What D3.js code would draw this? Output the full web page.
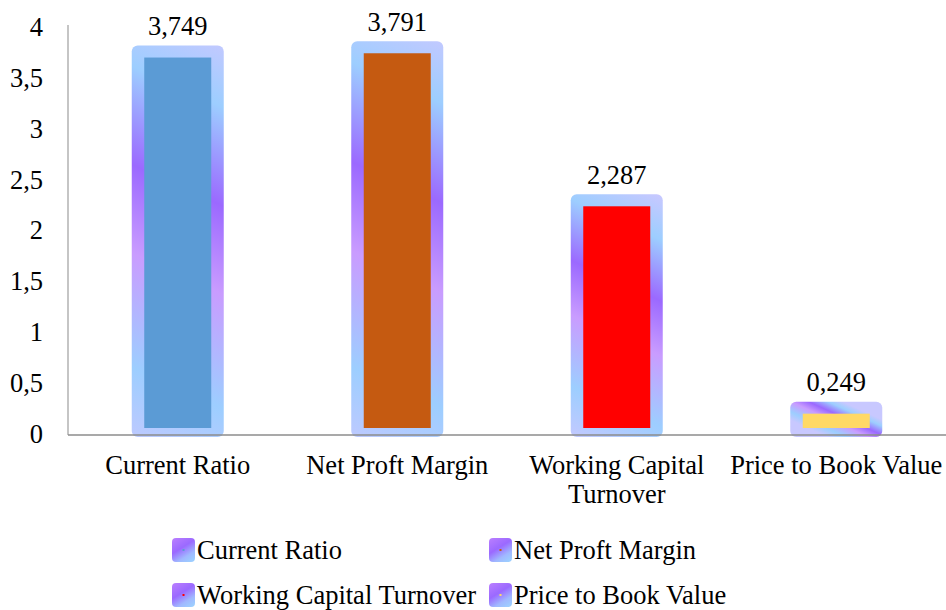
<!DOCTYPE html>
<html>
<head>
<meta charset="utf-8">
<script src="https://cdn.jsdelivr.net/npm/d3@7"></script>
<style>
  body { margin: 0; background: #fff; }
  svg text { font-family: "Liberation Serif", "Times New Roman", "DejaVu Serif", serif; fill: #000; font-size: 26.5px; }
</style>
</head>
<body>
<div id="graph"></div>
<script>
var categories = ["Current Ratio", "Net Proft Margin", "Working Capital Turnover", "Price to Book Value"],
    values = [3.749, 3.791, 2.287, 0.249],
    valueLabels = ["3,749", "3,791", "2,287", "0,249"],
    barColors = ["#5b9bd5", "#c55a11", "#ff0000", "#ffd966"],
    yTicks = [0, 0.5, 1, 1.5, 2, 2.5, 3, 3.5, 4];

var W = 946, H = 610,
    margin = {top: 27, right: 0, bottom: 176, left: 68},
    y0 = 434;

var svg = d3.select("#graph").append("svg")
    .attr("width", W)
    .attr("height", H);

var defs = svg.append("defs");

var x = d3.scaleBand()
    .domain(categories)
    .range([margin.left, W])
    .padding(0);

var y = d3.scaleLinear()
    .domain([0, 4])
    .range([y0, margin.top]);

// y axis
var yAxis = svg.append("g")
    .attr("transform", "translate(" + margin.left + ",0)")
    .call(d3.axisLeft(y).tickValues(yTicks).tickSize(0).tickPadding(25)
      .tickFormat(function(d) { return String(d).replace(".", ","); }));
yAxis.select(".domain").remove();
yAxis.attr("font-family", null).attr("font-size", null);

svg.append("line")
    .attr("x1", margin.left).attr("x2", margin.left)
    .attr("y1", 25).attr("y2", 435)
    .attr("stroke", "#a6a6a6").attr("stroke-width", 1.3);

// gradient frames behind each bar
var bars = svg.append("g").selectAll("g")
    .data(categories)
    .enter().append("g");

bars.each(function(d, i) {
  var cx = x(d) + x.bandwidth() / 2,
      top = y(values[i]) - 7,
      bottom = 437,
      h = bottom - top;
  var g = defs.append("linearGradient")
      .attr("id", "frame" + i)
      .attr("gradientUnits", "userSpaceOnUse")
      .attr("x1", cx + 0.25 * h).attr("y1", top - 0.1 * h)
      .attr("x2", cx - 0.25 * h).attr("y2", top + 1.0 * h);
  [[0.1, "#c8c8ff"], [0.24, "#9dceff"], [0.43, "#9b69ff"], [0.6, "#c99cff"], [0.82, "#9dceff"], [1, "#c8c8ff"]]
    .forEach(function(s) {
      g.append("stop").attr("offset", s[0]).attr("stop-color", s[1]);
    });
});

bars.append("rect")
    .attr("x", function(d) { return x(d) + x.bandwidth() / 2 - 46; })
    .attr("y", function(d, i) { return y(values[i]) - 7; })
    .attr("width", 92)
    .attr("height", function(d, i) { return 437 - (y(values[i]) - 7); })
    .attr("rx", 6)
    .attr("fill", function(d, i) { return "url(#frame" + i + ")"; });

bars.append("rect")
    .attr("x", function(d) { return x(d) + x.bandwidth() / 2 - 33.5; })
    .attr("y", function(d, i) { return y(values[i]) + 5; })
    .attr("width", 67)
    .attr("height", function(d, i) { return 428 - (y(values[i]) + 5); })
    .attr("fill", function(d, i) { return barColors[i]; });

bars.append("text")
    .attr("x", function(d) { return x(d) + x.bandwidth() / 2; })
    .attr("y", function(d, i) { return y(values[i]) - 17.5; })
    .attr("text-anchor", "middle")
    .text(function(d, i) { return valueLabels[i]; });

// baseline
svg.append("line")
    .attr("x1", margin.left).attr("x2", W)
    .attr("y1", 435).attr("y2", 435)
    .attr("stroke", "#8c8c8c").attr("stroke-width", 1.3);

// category labels
var xAxis = svg.append("g")
    .attr("transform", "translate(0,435)")
    .call(d3.axisBottom(x).tickSize(0).tickPadding(0));
xAxis.select(".domain").remove();
xAxis.attr("font-family", null).attr("font-size", null);
xAxis.selectAll("text")
    .attr("dy", null)
    .call(wrap, x.bandwidth());

function wrap(sel, w) {
  sel.each(function() {
    var text = d3.select(this),
        words = text.text().split(/\s+/),
        line = [], lines = [];
    text.text(null);
    var probe = text.append("tspan");
    words.forEach(function(word) {
      line.push(word);
      probe.text(line.join(" "));
      if (probe.node().getComputedTextLength() > w && line.length > 1) {
        line.pop();
        lines.push(line.join(" "));
        line = [word];
      }
    });
    lines.push(line.join(" "));
    probe.remove();
    lines.forEach(function(l, k) {
      text.append("tspan").attr("x", 0).attr("y", 39 + k * 29).text(l);
    });
  });
}

// legend
var legendPos = [[172, 538], [489, 538], [172, 583], [489, 583]];
var lg = defs.append("linearGradient")
    .attr("id", "legendGrad")
    .attr("x1", 0.2).attr("y1", 0).attr("x2", 0.8).attr("y2", 1);
[[0, "#b57bff"], [0.4, "#9b69ff"], [0.75, "#a0b8ff"], [1, "#9dceff"]].forEach(function(s) {
  lg.append("stop").attr("offset", s[0]).attr("stop-color", s[1]);
});

var legend = svg.append("g").selectAll("g")
    .data(categories)
    .enter().append("g")
    .attr("transform", function(d, i) { return "translate(" + legendPos[i][0] + "," + legendPos[i][1] + ")"; });

legend.append("rect")
    .attr("width", 23).attr("height", 24).attr("rx", 4)
    .attr("fill", "url(#legendGrad)");
legend.append("rect")
    .attr("x", 10.5).attr("y", 11).attr("width", 2).attr("height", 2)
    .attr("fill", function(d, i) { return barColors[i]; });
legend.append("text")
    .attr("x", 25).attr("y", 21)
    .text(function(d) { return d; });
</script>
</body>
</html>
